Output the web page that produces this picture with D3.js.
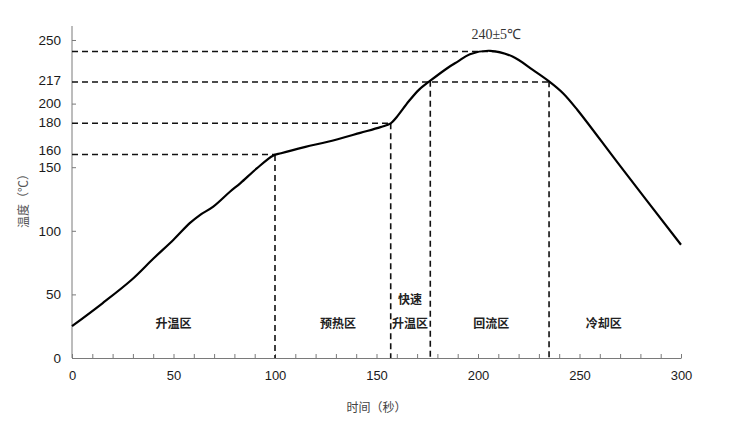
<!DOCTYPE html>
<html><head><meta charset="utf-8">
<script src="https://cdn.jsdelivr.net/npm/d3@7"></script>
<style>
html,body{margin:0;padding:0;background:#fff;}
svg{display:block;}
</style></head>
<body>
<svg id="chart" width="740" height="423"></svg>
<script>
// Reflow profile: time (s) vs temperature (°C)
const timeSec = [0, 15, 29.4, 40, 50, 58, 63, 69.6, 77.8, 83, 91, 99, 103, 115, 126, 142, 152, 157, 160, 166, 171, 176.5, 185, 190, 196, 206, 217, 227, 235, 242, 249, 270, 300];
const tempC   = [25, 43, 61.5, 78, 93, 106, 112.4, 119, 130.7, 137.5, 149, 159, 161, 166, 170, 177, 181.5, 184.5, 189.5, 202, 211, 218, 228, 233, 238.8, 241.5, 237, 226.5, 217.5, 208, 195, 151, 89];

const xTicks = [0, 50, 100, 150, 200, 250, 300];
const yTicks = [0, 50, 100, 150, 200, 250];
const yExtraLabels = ["160", "180", "217"];
const yExtraValues = [160, 184.5, 217];      // where the dashed guide lines sit
const peakValue = 241;                         // 240±5 guide
const peakLabel = "240±5℃";
const zoneBounds = [100, 157, 176.5, 235];     // vertical dashed lines
const zoneNames = ["升温区", "预热区", "升温区", "回流区", "冷却区"];
const zoneCenters = [50, 131, 166.5, 206.5, 262];
const xTitle = "时间（秒）";
const yTitle = "温度（℃）";

const svg = d3.select("#chart");
const x = d3.scaleLinear().domain([0, 300]).range([72, 681]);
const y = d3.scaleLinear().domain([0, 261]).range([358, 26]);

const axisColor = "#7a7a7a";
const textColor = "#1a1a1a";
const font = "'Liberation Sans', Arial, sans-serif";

const interp = t => {
  for (let i = 1; i < timeSec.length; i++) {
    if (t <= timeSec[i]) {
      const a = timeSec[i-1], b = timeSec[i];
      return tempC[i-1] + (tempC[i]-tempC[i-1]) * (t-a)/(b-a);
    }
  }
  return tempC[tempC.length-1];
};

// X axis
const xAxis = d3.axisBottom(x)
  .tickValues(d3.range(0, 301, 10))
  .tickSize(-4).tickSizeOuter(0)
  .tickFormat(d => xTicks.includes(d) ? d : "");
const gx = svg.append("g").attr("transform", `translate(0,${y(0)})`).call(xAxis);
gx.selectAll("path,line").attr("stroke", axisColor);
gx.selectAll("text").attr("font-family", font).attr("font-size", 13)
  .attr("fill", textColor).attr("dy", "1.45em");

// Y axis
const yAxis = d3.axisLeft(y).tickValues(yTicks).tickSize(-4).tickSizeOuter(0);
const gy = svg.append("g").attr("transform", `translate(${x(0)},0)`).call(yAxis);
gy.select("path").attr("d", `M0,${y(261)}V${y(0)}`);
gy.selectAll("path,line").attr("stroke", axisColor);
gy.selectAll("text").attr("font-family", font).attr("font-size", 13.5)
  .attr("fill", textColor).attr("x", -11);

// Extra y labels
const extraOffsets = [-4, -1, -1];
svg.append("g").selectAll("text").data(yExtraValues).join("text")
  .attr("x", x(0) - 11)
  .attr("y", (d, i) => y(d) + extraOffsets[i])
  .attr("dy", "0.32em")
  .attr("text-anchor", "end")
  .attr("font-family", font).attr("font-size", 13.5).attr("fill", textColor)
  .text((d, i) => yExtraLabels[i]);

// Dashed guides
const guides = svg.append("g").attr("stroke", "#111").attr("stroke-width", 1.6)
  .attr("stroke-dasharray", "6,4").attr("fill", "none");
const hEnds = [100, 157, 235];
yExtraValues.forEach((v, i) => {
  guides.append("line").attr("x1", x(0)).attr("x2", x(hEnds[i]))
    .attr("y1", y(v)).attr("y2", y(v));
});
guides.append("line").attr("x1", x(0)).attr("x2", x(209))
  .attr("y1", y(peakValue)).attr("y2", y(peakValue));
zoneBounds.forEach(t => {
  guides.append("line").attr("x1", x(t)).attr("x2", x(t))
    .attr("y1", y(interp(t))).attr("y2", y(0));
});

// Curve
const data = timeSec.map((t, i) => [t, tempC[i]]);
svg.append("path").datum(data)
  .attr("fill", "none").attr("stroke", "#000").attr("stroke-width", 2.2)
  .attr("stroke-linejoin", "round")
  .attr("d", d3.line().x(d => x(d[0])).y(d => y(d[1])).curve(d3.curveCatmullRom.alpha(0.5)));

// Zone labels
const zf = "'Noto Sans CJK SC', sans-serif";
svg.append("g").selectAll("text").data(zoneNames).join("text")
  .attr("x", (d, i) => x(zoneCenters[i]))
  .attr("y", 324).attr("dy", "0.35em")
  .attr("text-anchor", "middle")
  .attr("font-family", zf).attr("font-size", 12).attr("font-weight", "bold")
  .attr("fill", "#222").text(d => d);
svg.append("text").attr("x", x(zoneCenters[2])).attr("y", 300).attr("dy", "0.35em")
  .attr("text-anchor", "middle").attr("font-family", zf).attr("font-size", 12)
  .attr("font-weight", "bold").attr("fill", "#222").text("快速");

// Peak label
svg.append("text").attr("x", x(209)).attr("y", 34).attr("dy", "0.35em")
  .attr("text-anchor", "middle").attr("font-family", "'Liberation Serif', serif")
  .attr("font-size", 14).attr("fill", "#333").text(peakLabel);

// Axis titles
svg.append("text").attr("x", x(150)).attr("y", 408).attr("dy", "0.35em")
  .attr("text-anchor", "middle").attr("font-family", zf).attr("font-size", 12)
  .attr("fill", "#444").text(xTitle);
svg.append("text").attr("transform", "translate(24,198) rotate(-90)")
  .attr("dy", "0.35em").attr("text-anchor", "middle").attr("font-family", zf)
  .attr("font-size", 12).attr("fill", "#555").text(yTitle);
</script>
</body></html>
